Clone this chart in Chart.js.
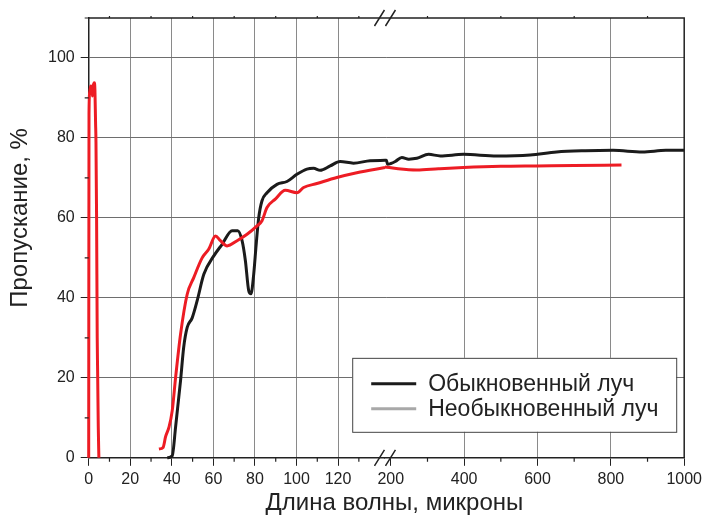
<!DOCTYPE html>
<html>
<head>
<meta charset="utf-8">
<script src="https://cdn.jsdelivr.net/npm/chart.js@4"></script>
<style>
  body { margin: 0; background: #fff; }
</style>
</head>
<body>
<canvas id="chart" width="706" height="521"></canvas>
<script>
// [длина волны, пропускание] - ось разорвана: 0-142 мкм и 184-1000 мкм
const ordinaryShort = [
  [37.8, 0], [40.2, 0.5], [41.8, 7.6], [44.2, 19.3], [45.7, 27.6], [47.4, 32.6], [49.8, 35],
  [52.2, 39.3], [55.4, 45.9], [60.2, 50.5], [64.2, 53.4], [69, 56.8], [71.7, 56.8], [73.8, 54.3],
  [75.4, 49.3], [77, 41.8], [78.1, 41], [79.4, 45.9], [80.6, 53.4], [81.8, 60], [83.4, 64.3],
  [85.8, 66.3], [90.6, 68.4], [95.4, 69.1], [100.2, 70.9], [105, 72.2], [108.2, 72.4],
  [111.4, 71.9], [116.2, 73], [121, 74.1], [127.4, 73.7], [135.4, 74.3], [142.6, 74.4]
];
const ordinaryLong = [
  [184, 74.4], [188, 74.4], [191, 73.4], [200, 73.6], [212, 74.1], [230, 75.1], [249, 74.7],
  [271, 74.9], [303, 75.9], [335, 75.5], [398, 75.9], [489, 75.5], [580, 75.75], [652, 76.5],
  [730, 76.8], [806, 76.9], [886, 76.5], [950, 76.9], [1000, 76.9]
];
const extraShort = [
  [0, 0], [0.15, 86], [0.5, 91.5], [1, 93], [1.5, 92.5], [1.8, 90.5], [2.2, 93], [2.7, 93.8],
  [3, 92], [3.3, 84], [3.5, 79], [3.8, 60], [4.1, 30], [4.3, 21.5], [4.6, 8], [4.9, 0],
  [20, null],
  [33.8, 2.2], [35.8, 2.6], [37, 5.3], [38.6, 7.6], [40.2, 11.8], [41.8, 20], [44.2, 30.9],
  [47.4, 40.9], [50.5, 45], [54.6, 50], [57.8, 52.2], [61, 55.5], [63.4, 54.3], [66.6, 53],
  [71.4, 54.3], [76.2, 55.9], [81, 58], [83.4, 59.3], [85.8, 62.6], [89.8, 64.7], [94.6, 66.9],
  [100.2, 66.3], [103.4, 67.6], [109.8, 68.6], [119.4, 70.1], [129, 71.3], [142.6, 72.6]
];
const extraLong = [
  [184, 72.75], [220, 72.3], [271, 72], [330, 72.3], [398, 72.6], [500, 72.9], [598, 73],
  [700, 73.1], [829, 73.25]
];
const seriesNames = ['Обыкновенный луч', 'Необыкновенный луч'];
const yTicks = [0, 20, 40, 60, 80, 100];
const xTicksShort = [0, 20, 40, 60, 80, 100, 120];
const xTicksLong = [200, 400, 600, 800, 1000];

const toPoints = arr => arr.map(p => ({ x: p[0], y: p[1] }));
// деления с шагом, большие берутся из списков выше
const stepTicks = (from, to, step) => {
  const out = [];
  for (let v = from; v <= to; v += step) out.push({ value: v });
  return out;
};

// рамка, мелкие деления, разрыв оси, легенда и подписи осей
const decor = {
  id: 'decor',
  afterDraw(chart) {
    const { ctx, chartArea: a, scales } = chart;
    const { y, xs, xl } = scales;
    ctx.save();
    ctx.strokeStyle = '#222';
    ctx.lineWidth = 1.5;
    ctx.beginPath();
    ctx.moveTo(a.left, a.top);
    ctx.lineTo(a.right, a.top);
    ctx.lineTo(a.right, a.bottom);
    ctx.stroke();

    ctx.lineWidth = 1.2;
    ctx.beginPath();
    y.ticks.forEach(t => {
      if (yTicks.includes(t.value)) return;
      const py = y.getPixelForValue(t.value);
      ctx.moveTo(a.left - 4, py);
      ctx.lineTo(a.left, py);
    });
    [[xs, xTicksShort], [xl, xTicksLong]].forEach(([s, major]) => {
      s.ticks.forEach(t => {
        if (major.includes(t.value)) return;
        const px = s.getPixelForValue(t.value);
        ctx.moveTo(px, a.bottom);
        ctx.lineTo(px, a.bottom + 4);
        ctx.moveTo(px, a.top);
        ctx.lineTo(px, a.top - 2);
      });
    });
    ctx.stroke();

    // знак разрыва
    const bx = xs.right;
    ctx.lineWidth = 1.5;
    ctx.beginPath();
    [a.top, a.bottom].forEach(by => {
      [-5.5, 5.5].forEach(dx => {
        ctx.moveTo(bx + dx - 5, by + 8);
        ctx.lineTo(bx + dx + 5, by - 8);
      });
    });
    ctx.stroke();

    // легенда
    const lx = a.right - 332, rx = a.right - 8;
    const ty = y.getPixelForValue(25), byy = y.getPixelForValue(6.5);
    ctx.fillStyle = '#fff';
    ctx.fillRect(lx, ty, rx - lx, byy - ty);
    ctx.strokeStyle = '#444';
    ctx.lineWidth = 1;
    ctx.strokeRect(lx + 0.5, ty + 0.5, rx - lx, byy - ty);
    const legendColors = ['#1b1b1b', '#a8a8a8'];
    ctx.font = '23px "Liberation Sans", Arial, sans-serif';
    ctx.textBaseline = 'middle';
    ctx.textAlign = 'left';
    seriesNames.forEach((name, i) => {
      const ly = ty + 26 + i * 25;
      ctx.strokeStyle = legendColors[i];
      ctx.lineWidth = 3;
      ctx.beginPath();
      ctx.moveTo(lx + 19, ly);
      ctx.lineTo(lx + 64, ly);
      ctx.stroke();
      ctx.fillStyle = '#222';
      ctx.fillText(name, lx + 76, ly + 1);
    });

    // подписи осей
    ctx.fillStyle = '#222';
    ctx.textAlign = 'center';
    ctx.font = '24px "Liberation Sans", Arial, sans-serif';
    ctx.fillText('Длина волны, микроны', (a.left + a.right) / 2 + 8, 503);
    ctx.translate(20, y.getPixelForValue(60));
    ctx.rotate(-Math.PI / 2);
    ctx.fillText('Пропускание, %', 0, 0);
    ctx.restore();
  }
};

Chart.defaults.font.family = '"Liberation Sans", Arial, sans-serif';
Chart.defaults.font.size = 16;
Chart.defaults.color = '#222';

const lineStyle = { pointRadius: 0, borderWidth: 3, cubicInterpolationMode: 'monotone', clip: 4 };

new Chart(document.getElementById('chart'), {
  type: 'line',
  data: {
    datasets: [
      { ...lineStyle, label: seriesNames[1], data: toPoints(extraShort), xAxisID: 'xs', borderColor: '#ed1c24' },
      { ...lineStyle, label: seriesNames[1], data: toPoints(extraLong), xAxisID: 'xl', borderColor: '#ed1c24' },
      { ...lineStyle, label: seriesNames[0], data: toPoints(ordinaryShort), xAxisID: 'xs', borderColor: '#1b1b1b' },
      { ...lineStyle, label: seriesNames[0], data: toPoints(ordinaryLong), xAxisID: 'xl', borderColor: '#1b1b1b' }
    ]
  },
  options: {
    responsive: false,
    animation: false,
    events: [],
    layout: { padding: { left: 42, right: 21, top: 18, bottom: 28 } },
    plugins: { legend: { display: false }, tooltip: { enabled: false } },
    scales: {
      xs: {
        type: 'linear', position: 'bottom', stack: 'x', stackWeight: 297,
        min: 0, max: 142.56,
        afterBuildTicks: s => { s.ticks = stepTicks(0, 130, 10); },
        ticks: { autoSkip: false, maxRotation: 0, padding: 4,
          callback: v => xTicksShort.includes(v) ? String(v) : '' },
        grid: {
          color: c => c.tick && c.tick.value !== 0 && xTicksShort.includes(c.tick.value) ? '#8a8a8a' : 'rgba(0,0,0,0)',
          tickColor: c => c.tick && xTicksShort.includes(c.tick.value) ? '#222' : 'rgba(0,0,0,0)',
          tickLength: 8
        },
        border: { color: '#222', width: 1.5 }
      },
      xl: {
        type: 'linear', position: 'bottom', stack: 'x', stackWeight: 300,
        min: 184, max: 1000,
        afterBuildTicks: s => { s.ticks = stepTicks(200, 1000, 100); },
        ticks: { autoSkip: false, maxRotation: 0, padding: 4,
          callback: v => xTicksLong.includes(v) ? String(v) : '' },
        grid: {
          color: c => c.tick && [400, 600, 800].includes(c.tick.value) ? '#8a8a8a' : 'rgba(0,0,0,0)',
          tickColor: c => c.tick && xTicksLong.includes(c.tick.value) ? '#222' : 'rgba(0,0,0,0)',
          tickLength: 8
        },
        border: { color: '#222', width: 1.5 }
      },
      y: {
        type: 'linear', min: 0, max: 110,
        ticks: { stepSize: 10, autoSkip: false, padding: 6,
          callback: v => yTicks.includes(v) ? String(v) : '' },
        grid: {
          color: c => c.tick && c.tick.value !== 0 && yTicks.includes(c.tick.value) ? '#6e6e6e' : 'rgba(0,0,0,0)',
          tickColor: c => c.tick && yTicks.includes(c.tick.value) ? '#222' : 'rgba(0,0,0,0)',
          tickLength: 8
        },
        border: { color: '#222', width: 1.5 }
      }
    }
  },
  plugins: [decor]
});
</script>
</body>
</html>
